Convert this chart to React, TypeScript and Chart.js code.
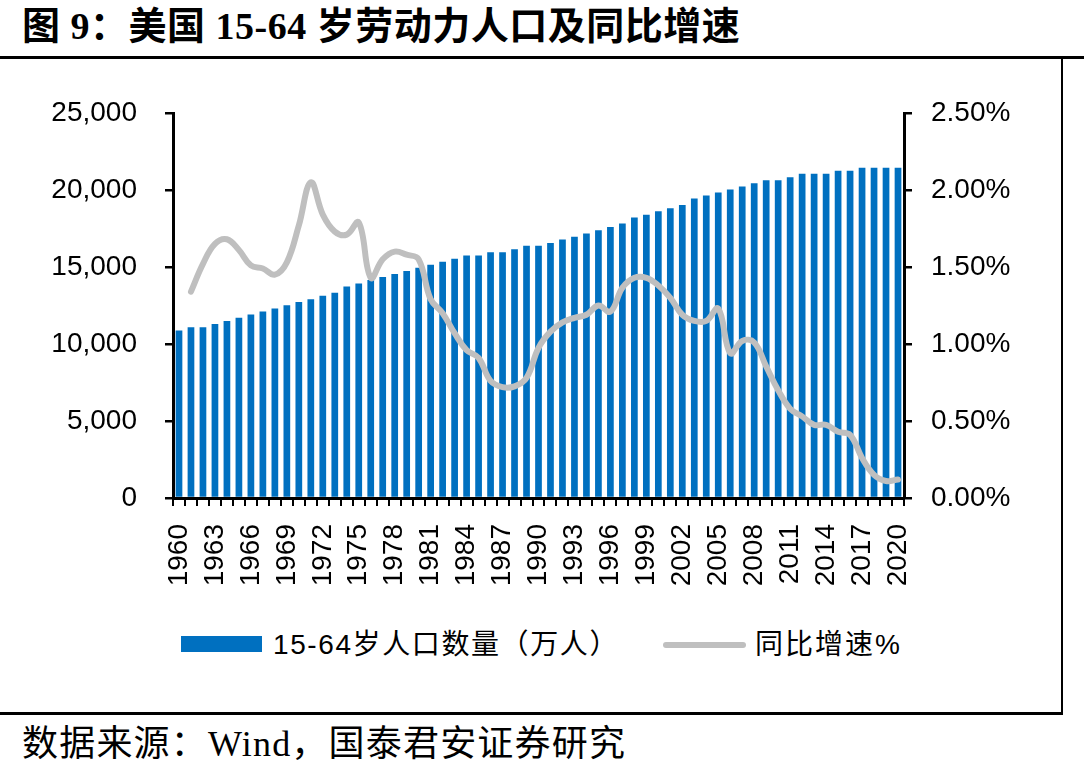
import React, { useEffect, useRef } from 'react';
import { Chart, registerables } from 'chart.js';

Chart.register(...registerables);

const years = [
  '1960', '1961', '1962', '1963', '1964', '1965', '1966', '1967', '1968', '1969',
  '1970', '1971', '1972', '1973', '1974', '1975', '1976', '1977', '1978', '1979',
  '1980', '1981', '1982', '1983', '1984', '1985', '1986', '1987', '1988', '1989',
  '1990', '1991', '1992', '1993', '1994', '1995', '1996', '1997', '1998', '1999',
  '2000', '2001', '2002', '2003', '2004', '2005', '2006', '2007', '2008', '2009',
  '2010', '2011', '2012', '2013', '2014', '2015', '2016', '2017', '2018', '2019',
  '2020',
];

// 15-64岁人口数量（万人）
const population = [
  10870, 11090, 11090, 11300, 11500, 11700, 11910, 12110, 12300, 12520,
  12720, 12910, 13130, 13330, 13740, 13930, 14150, 14350, 14540, 14740,
  14950, 15150, 15340, 15540, 15750, 15750, 15950, 15950, 16150, 16380,
  16380, 16560, 16780, 16970, 17170, 17380, 17600, 17820, 18210, 18400,
  18620, 18820, 19030, 19450, 19640, 19830, 20030, 20230, 20440, 20640,
  20640, 20830, 21050, 21050, 21050, 21250, 21250, 21440, 21440, 21440,
  21440,
];

// 同比增速%
const growth = [
  null, 1.34, 1.52, 1.65, 1.68, 1.61, 1.51, 1.49, 1.45, 1.53,
  1.77, 2.05, 1.84, 1.73, 1.71, 1.79, 1.43, 1.55, 1.60, 1.58,
  1.55, 1.29, 1.20, 1.07, 0.96, 0.91, 0.76, 0.72, 0.725, 0.78,
  0.975, 1.08, 1.14, 1.17, 1.19, 1.25, 1.21, 1.365, 1.43, 1.43,
  1.38, 1.30, 1.19, 1.15, 1.15, 1.23, 0.94, 1.02, 1.01, 0.855,
  0.70, 0.58, 0.53, 0.475, 0.475, 0.43, 0.41, 0.26, 0.15, 0.11,
  0.12,
];

const leftTickMax = 25000;
const leftTickStep = 5000;
const rightTickMax = 2.5;
const rightTickStep = 0.5;

const barLabel = '15-64岁人口数量（万人）';
const lineLabel = '同比增速%';
const titleText = '图 9：美国 15-64 岁劳动力人口及同比增速';
const sourceText = '数据来源：Wind，国泰君安证券研究';

const BLUE = '#0070C0';
const GREY = '#BFBFBF';
const AXIS_FONT = { family: 'Arial, "Liberation Sans", sans-serif', size: 28 };

export default function App() {
  const ref = useRef<HTMLCanvasElement>(null);

  useEffect(() => {
    const chart = new Chart(ref.current as HTMLCanvasElement, {
      type: 'bar',
      data: {
        labels: years,
        datasets: [
          {
            type: 'line',
            label: lineLabel,
            data: growth as any,
            yAxisID: 'y1',
            borderColor: GREY,
            backgroundColor: GREY,
            borderWidth: 6,
            pointRadius: 0,
            pointHoverRadius: 0,
            tension: 0.4,
            fill: false,
            borderCapStyle: 'round',
            borderJoinStyle: 'round',
            order: 0,
          } as any,
          {
            type: 'bar',
            label: barLabel,
            data: population,
            yAxisID: 'y',
            backgroundColor: BLUE,
            barPercentage: 0.56,
            categoryPercentage: 1,
            order: 1,
          } as any,
        ],
      },
      options: {
        responsive: false,
        animation: false,
        devicePixelRatio: 1,
        layout: { padding: { top: 53, left: 0, right: 0, bottom: 0 } },
        plugins: {
          legend: { display: false },
          tooltip: { enabled: false },
          title: { display: false },
        },
        scales: {
          x: {
            offset: true,
            grid: {
              display: true,
              offset: true,
              drawOnChartArea: false,
              drawTicks: true,
              tickLength: 8,
              color: '#000',
              lineWidth: 2,
            },
            border: { display: true, color: '#000', width: 3 },
            ticks: {
              autoSkip: false,
              minRotation: 90,
              maxRotation: 90,
              padding: 18,
              color: '#000',
              font: AXIS_FONT,
              callback: (_v: any, i: number) => (i % 3 === 0 ? years[i] : ''),
            },
            afterFit: (s: any) => {
              s.height = 122;
            },
          },
          y: {
            position: 'left',
            min: 0,
            max: leftTickMax,
            grid: {
              display: true,
              drawOnChartArea: false,
              drawTicks: true,
              tickLength: 8,
              color: '#000',
              lineWidth: 2.5,
            },
            border: { display: true, color: '#000', width: 3 },
            ticks: {
              stepSize: leftTickStep,
              padding: 28,
              color: '#000',
              font: AXIS_FONT,
              callback: (v: any) => Number(v).toLocaleString('en-US'),
            },
            afterFit: (s: any) => {
              s.width = 173;
            },
          },
          y1: {
            position: 'right',
            min: 0,
            max: rightTickMax,
            grid: {
              display: true,
              drawOnChartArea: false,
              drawTicks: true,
              tickLength: 8,
              color: '#000',
              lineWidth: 2.5,
            },
            border: { display: true, color: '#000', width: 3 },
            ticks: {
              stepSize: rightTickStep,
              padding: 19,
              color: '#000',
              font: AXIS_FONT,
              callback: (v: any) => Number(v).toFixed(2) + '%',
            },
            afterFit: (s: any) => {
              s.width = 154;
            },
          },
        },
      } as any,
    });
    return () => chart.destroy();
  }, []);

  const legendText: React.CSSProperties = {
    position: 'absolute',
    top: 629,
    height: 32,
    lineHeight: '32px',
    fontSize: 28,
    fontFamily: 'Arial, "Liberation Sans", "Noto Sans CJK SC", sans-serif',
    color: '#000',
    whiteSpace: 'nowrap',
  };

  return (
    <div
      style={{
        position: 'absolute',
        left: 0,
        top: 0,
        width: 1084,
        height: 777,
        background: '#fff',
        overflow: 'hidden',
      }}
    >
      <div
        style={{
          position: 'absolute',
          left: 22,
          top: 4,
          fontSize: 38,
          lineHeight: '44px',
          fontWeight: 'bold',
          letterSpacing: 0.5,
          fontFamily: '"Liberation Serif", "Times New Roman", "Noto Sans CJK SC", serif',
          color: '#000',
          whiteSpace: 'nowrap',
        }}
      >
        {titleText}
      </div>
      <div style={{ position: 'absolute', left: 0, top: 56, width: 1084, height: 3, background: '#000' }} />
      <div style={{ position: 'absolute', left: 1061, top: 57, width: 2, height: 658, background: '#000' }} />
      <div style={{ position: 'absolute', left: 0, top: 712, width: 1063, height: 3, background: '#000' }} />

      <canvas
        ref={ref}
        width={1058}
        height={560}
        style={{ position: 'absolute', left: 0, top: 60, width: 1058, height: 560 }}
      />

      <div style={{ position: 'absolute', left: 181, top: 636, width: 81, height: 16, background: BLUE }} />
      <div style={{ ...legendText, left: 273, letterSpacing: 1.6 }}>{barLabel}</div>
      <div
        style={{ position: 'absolute', left: 663, top: 642, width: 83, height: 6, borderRadius: 3, background: GREY }}
      />
      <div style={{ ...legendText, left: 755, letterSpacing: 2 }}>{lineLabel}</div>

      <div
        style={{
          position: 'absolute',
          left: 22,
          top: 722,
          fontSize: 36,
          lineHeight: '44px',
          letterSpacing: 1.2,
          fontFamily: '"Liberation Serif", "Times New Roman", "Noto Sans CJK SC", serif',
          color: '#000',
          whiteSpace: 'nowrap',
        }}
      >
        {sourceText}
      </div>
    </div>
  );
}
